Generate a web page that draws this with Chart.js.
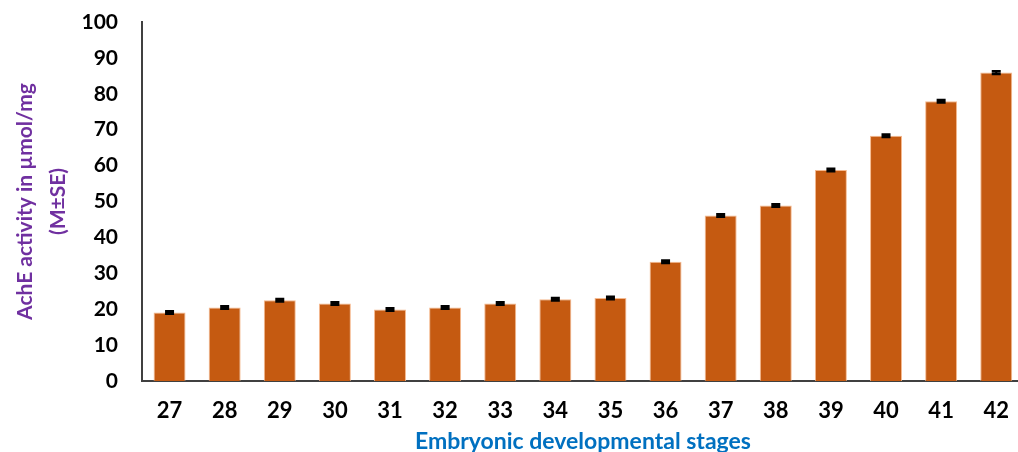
<!DOCTYPE html>
<html>
<head>
<meta charset="utf-8">
<script src="https://cdn.jsdelivr.net/npm/chart.js@4"></script>
<style>
  html, body { margin: 0; padding: 0; background: #fff; overflow: hidden; }
  #wrap { position: relative; width: 1026px; height: 452px; }
</style>
</head>
<body>
<div id="wrap"><canvas id="achChart"></canvas></div>
<script>
// 胚胎发育阶段
const stages = ['27', '28', '29', '30', '31', '32', '33', '34', '35', '36', '37', '38', '39', '40', '41', '42'];
// AchE 活性 (µmol/mg)
const achValues = [19.1, 20.5, 22.5, 21.6, 19.9, 20.5, 21.6, 22.8, 23.1, 33.2, 46.1, 48.9, 58.8, 68.3, 77.9, 85.9];
// 标准误
const achErrors = [0.35, 0.35, 0.35, 0.35, 0.35, 0.35, 0.35, 0.35, 0.35, 0.35, 0.35, 0.35, 0.35, 0.35, 0.35, 0.35];
const yTicks = [0, 10, 20, 30, 40, 50, 60, 70, 80, 90, 100];

// 误差线插件
const errorBarPlugin = {
    id: 'errorBars',
    afterDatasetsDraw(chart) {
        const ctx = chart.ctx;
        const meta = chart.getDatasetMeta(0);
        const yScale = chart.scales.y;
        ctx.save();
        ctx.strokeStyle = '#000';
        meta.data.forEach((bar, i) => {
            const x = bar.x;
            const yTop = yScale.getPixelForValue(achValues[i] + achErrors[i]);
            const yBot = yScale.getPixelForValue(achValues[i] - achErrors[i]);
            ctx.lineWidth = 2;
            ctx.beginPath();
            ctx.moveTo(x, yTop); ctx.lineTo(x, yBot);
            ctx.stroke();
            ctx.lineWidth = 2.5;
            ctx.beginPath();
            ctx.moveTo(x - 4.5, yTop); ctx.lineTo(x + 4.5, yTop);
            ctx.moveTo(x - 4.5, yBot); ctx.lineTo(x + 4.5, yBot);
            ctx.stroke();
        });
        ctx.restore();
    }
};

new Chart(document.getElementById('achChart'), {
    type: 'bar',
    data: {
        labels: stages,
        datasets: [{
            data: achValues,
            backgroundColor: '#C55A11',
            borderColor: 'rgba(244,177,131,0.9)',
            borderWidth: 1,
            barPercentage: 0.58,
            categoryPercentage: 1
        }]
    },
    options: {
        responsive: true,
        maintainAspectRatio: false,
        animation: false,
        layout: { autoPadding: false, padding: { top: 22, right: 0, left: 0, bottom: 0 } },
        plugins: {
            legend: { display: false },
            tooltip: { enabled: false }
        },
        scales: {
            x: {
                afterFit(scale) { scale.height = 71; },
                grid: { display: false, drawTicks: false },
                border: { display: true, color: '#404040', width: 2 },
                ticks: {
                    color: '#000',
                    padding: 17,
                    font: { family: 'Lato', weight: 'bold', size: 22 }
                },
                title: {
                    display: true,
                    text: 'Embryonic developmental stages',
                    color: '#0070C0',
                    font: { family: 'Lato', weight: 'bold', size: 23 },
                    padding: { top: 0, bottom: -3 }
                }
            },
            y: {
                min: 0,
                max: 100,
                afterBuildTicks(scale) {
                    scale.ticks = yTicks.map(v => ({ value: v }));
                },
                afterFit(scale) {
                    // 固定轴宽，去掉刻度间距带来的上下留白
                    scale.width = 142;
                    scale.paddingTop = 0;
                    scale.paddingBottom = 0;
                },
                grid: { display: false, drawTicks: false },
                border: { display: true, color: '#404040', width: 2 },
                ticks: {
                    color: '#000',
                    padding: 24,
                    font: { family: 'Lato', weight: 'bold', size: 21 }
                },
                title: {
                    display: true,
                    text: ['AchE activity in µmol/mg', '(M±SE)'],
                    color: '#7030A0',
                    font: { family: 'Lato', weight: 'bold', size: 21, lineHeight: 1.6 },
                    padding: { top: 8, bottom: 0 }
                }
            }
        }
    },
    plugins: [errorBarPlugin]
});
</script>
</body>
</html>
